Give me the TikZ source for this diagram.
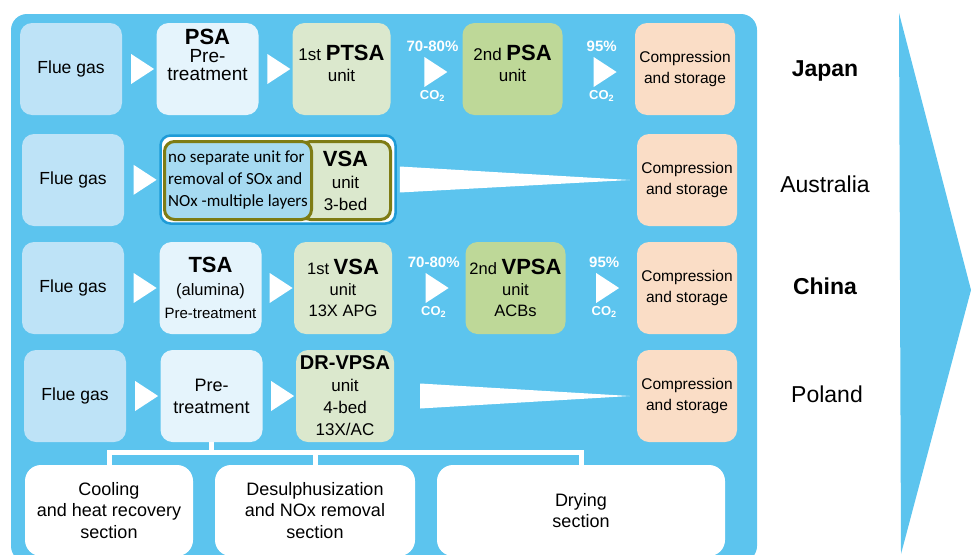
\documentclass[tikz,border=0pt]{standalone}
\usepackage{fontspec}
\setmainfont{Liberation Sans}
\newfontfamily\notefont{Carlito}
\usepackage{xcolor}
\usepackage{tikz}
\usetikzlibrary{shapes}
\definecolor{panelblue}{RGB}{92,196,238}
\definecolor{feedblue}{RGB}{190,227,247}
\definecolor{prepale}{RGB}{229,244,252}
\definecolor{greenlight}{RGB}{219,232,205}
\definecolor{greenmid}{RGB}{190,216,152}
\definecolor{peach}{RGB}{250,221,198}
\definecolor{olive}{RGB}{126,124,20}
\definecolor{vsablue}{RGB}{30,155,215}
\definecolor{noteblue}{RGB}{166,218,241}
\newcommand{\unitname}[1]{{\fontsize{22}{22}\selectfont\bfseries #1}}

\begin{document}
\begin{tikzpicture}[
    x=1pt, y=-1pt,
    box/.style={
      rectangle,
      rounded corners=12pt,
      minimum height=92pt,
      inner sep=0pt,
      align=center,
      font=\fontsize{16.5}{21}\selectfont
    },
    feed/.style={box, fill=feedblue, minimum width=102pt, font=\fontsize{17.5}{21}\selectfont},
    pretreat/.style={box, fill=prepale, minimum width=102pt},
    firstunit/.style={box, fill=greenlight, minimum width=98pt},
    secondunit/.style={box, fill=greenmid, minimum width=100pt},
    storage/.style={box, fill=peach, minimum width=100pt, font=\fontsize{15.5}{21}\selectfont},
    sectionbox/.style={box, fill=white, rounded corners=16pt, minimum height=91pt, font=\fontsize{18}{21.5}\selectfont},
    boxtext/.style={align=center, inner sep=0pt, font=\fontsize{17}{21}\selectfont},
    tri/.style={isosceles triangle, isosceles triangle stretches, fill=white, inner sep=0pt, minimum width=30pt, minimum height=23pt},
    pct/.style={text=white, font=\bfseries\fontsize{15}{15}\selectfont, inner sep=2pt, yshift=8pt},
    co2/.style={text=white, font=\bfseries\fontsize{13}{13}\selectfont, inner sep=2pt, yshift=-6pt},
    wedge/.style={fill=white},
    country/.style={font=\fontsize{23}{23}\selectfont},
    countrybold/.style={font=\bfseries\fontsize{23}{23}\selectfont},
    bracket/.style={draw=white, line width=5pt},
]
    \useasboundingbox (0,0) rectangle (971,554);
    \clip (0,0) rectangle (971,554);

    \fill [panelblue, rounded corners=16pt] (11,14) rectangle (757,562);
    \fill [panelblue] (899,13) -- (971,290) -- (901,554) -- cycle;

    \node [feed] (fg1) at (71,69) {Flue gas};
    \node [pretreat, label={[boxtext, yshift=14pt, font=\fontsize{19}{18}\selectfont]center:{\unitname{PSA}\\Pre-\\treatment}}] (pre1) at (207.5,69) {};
    \node [firstunit, label={[boxtext, yshift=6pt]center:{1st \unitname{PTSA}\\unit}}] (u11) at (341.5,69) {};
    \node [secondunit, label={[boxtext, yshift=6pt]center:{2nd \unitname{PSA}\\unit}}] (u12) at (512.5,69) {};
    \node [storage] (cs1) at (685,69) {Compression\\and storage};
    \node [countrybold] (jp) at (825,71) {Japan};

    \node [feed] (fg2) at (73,180) {Flue gas};
    \node [box, draw=vsablue, line width=2.5pt, fill=white, rounded corners=10pt, minimum width=235pt, minimum height=88pt] (vsa) at (278,179.5) {};
    \node [box, draw=olive, line width=3pt, fill=greenlight, rounded corners=10pt, minimum width=90pt, minimum height=78pt, font=\fontsize{17}{22}\selectfont] (vsaunit) at (345.5,180.5) {\unitname{VSA}\\unit\\3-bed};
    \node [box, draw=olive, line width=3pt, fill=noteblue, rounded corners=10pt, minimum width=147pt, minimum height=78pt, align=left, font=\notefont\fontsize{17}{22}\selectfont] (nosep) at (238,180.5) {no separate unit for\\removal of SOx and\\NOx -multiple layers};
    \node [storage] (cs2) at (687,180) {Compression\\and storage};
    \node [country] (au) at (825,184) {Australia};

    \node [feed] (fg3) at (73,288) {Flue gas};
    \node [pretreat, font=\fontsize{16.5}{23}\selectfont] (pre3) at (210.5,288) {\unitname{TSA}\\(alumina)\\{\fontsize{15}{18}\selectfont Pre-treatment}};
    \node [firstunit] (u31) at (343,288) {1st \unitname{VSA}\\unit\\13X APG};
    \node [secondunit] (u32) at (515.5,288) {2nd \unitname{VPSA}\\unit\\ACBs};
    \node [storage] (cs3) at (687,288) {Compression\\and storage};
    \node [countrybold] (cn) at (825,286) {China};

    \node [feed] (fg4) at (75,396) {Flue gas};
    \node [pretreat, font=\fontsize{18}{22}\selectfont] (pre4) at (211.5,396) {Pre-\\treatment};
    \node [firstunit, font=\fontsize{17}{22}\selectfont] (u41) at (345,396) {{\fontsize{20}{20}\selectfont\bfseries DR-VPSA}\\unit\\4-bed\\13X/AC};
    \node [storage] (cs4) at (687,396) {Compression\\and storage};
    \node [country] (pl) at (827,394) {Poland};

    \node [sectionbox, minimum width=168pt] (cool) at (109,510.5) {Cooling\\and heat recovery\\section};
    \node [sectionbox, minimum width=200pt] (desu) at (315,510.5) {Desulphusization\\and NOx removal\\section};
    \node [sectionbox, minimum width=288pt] (dry) at (581,510.5) {Drying\\section};

    \path (fg1) -- (pre1) node [tri, midway] (a11) {};
    \path (pre1) -- (u11) node [tri, midway] (a12) {};
    \path (u11) -- (u12) node [tri, midway, xshift=6pt, yshift=-3pt, label={[pct]above:70-80\%}, label={[co2]below:CO\textsubscript{2}}] (a13) {};
    \path (u12) -- (cs1) node [tri, midway, xshift=3pt, yshift=-3pt, label={[pct]above:95\%}, label={[co2]below:CO\textsubscript{2}}] (a14) {};

    \path (fg2) -- (vsa) node [tri, midway] (a21) {};
    \fill [wedge] ([xshift=3pt, yshift=13pt]vsa.east) -- ([xshift=-7pt]cs2.west) -- ([xshift=3pt, yshift=-13pt]vsa.east) -- cycle;

    \path (fg3) -- (pre3) node [tri, midway] (a31) {};
    \path (pre3) -- (u31) node [tri, midway] (a32) {};
    \path (u31) -- (u32) node [tri, midway, xshift=5pt, label={[pct]above:70-80\%}, label={[co2]below:CO\textsubscript{2}}] (a33) {};
    \path (u32) -- (cs3) node [tri, midway, xshift=3pt, label={[pct]above:95\%}, label={[co2]below:CO\textsubscript{2}}] (a34) {};

    \path (fg4) -- (pre4) node [tri, midway] (a41) {};
    \path (pre4) -- (u41) node [tri, midway] (a42) {};
    \fill [wedge] ([xshift=26pt, yshift=12.5pt]u41.east) -- ([xshift=-7pt]cs4.west) -- ([xshift=26pt, yshift=-12.5pt]u41.east) -- cycle;

    \draw [bracket] (pre4.south) -- ++(0,11);
    \draw [bracket] (cool.north) -- ++(0,-12) -| (dry.north);
    \draw [bracket] (desu.north) -- ++(0,-12);
\end{tikzpicture}
\end{document}
